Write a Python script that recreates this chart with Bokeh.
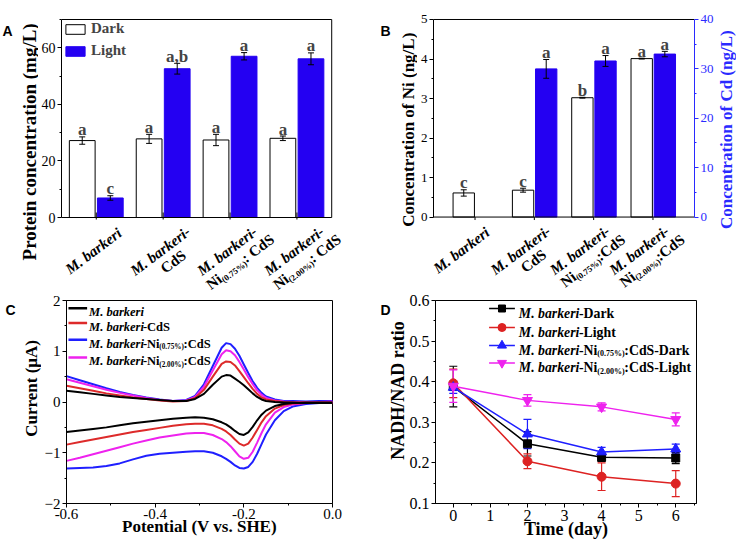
import math
from bokeh.plotting import figure
from bokeh.models import (Range1d, LinearAxis, FixedTicker, Label, Whisker, TeeHead,
                          ColumnDataSource, Legend, LegendItem, NumeralTickFormatter)
from bokeh.layouts import column, row
from bokeh.embed import file_html
from bokeh.resources import INLINE

SERIF = "Liberation Serif"
SANS = "Liberation Sans"
BAR_BLUE = "#2400f2"
AX_BLUE = "#2a2aff"

# ---------------- data ----------------
group_pos = [1, 2, 3, 4]
group_lines_A = [
    [[("M. barkeri", "i")]],
    [[("M. barkeri", "i"), ("-", "b")], [("CdS", "b")]],
    [[("M. barkeri", "i"), ("-", "b")], [("Ni", "b"), ("(0.75%)", "s"), (": CdS", "b")]],
    [[("M. barkeri", "i"), ("-", "b")], [("Ni", "b"), ("(2.00%)", "s"), (": CdS", "b")]],
]
group_lines_B = [
    [[("M. barkeri", "i")]],
    [[("M. barkeri", "i"), ("-", "b")], [("CdS", "b")]],
    [[("M. barkeri", "i"), ("-", "b")], [("Ni", "b"), ("(0.75%)", "s"), (":CdS", "b")]],
    [[("M. barkeri", "i"), ("-", "b")], [("Ni", "b"), ("(2.00%)", "s"), (":CdS", "b")]],
]

# Panel A: protein concentration (mg/L)
protein_dark = [27.2, 27.8, 27.4, 28.0]
protein_dark_err = [1.3, 1.6, 2.0, 0.8]
protein_dark_sig = ["a", "a", "a", "a"]
protein_light = [6.9, 52.6, 57.0, 56.1]
protein_light_err = [0.8, 1.9, 1.3, 2.1]
protein_light_sig = ["c", "a,b", "a", "a"]

# Panel B: Ni (left axis) and Cd (right axis), ng/L
ni_conc = [0.61, 0.68, 3.02, 4.01]
ni_err = [0.08, 0.05, 0.01, 0.01]
ni_sig = ["c", "c", "b", "a"]
cd_groups = [2, 3, 4]
cd_conc = [30.0, 31.6, 33.0]
cd_err = [1.9, 1.1, 0.55]
cd_sig = ["a", "a", "a"]

# Panel C: cyclic voltammograms (uA) vs potential (V vs. SHE)
cv_E = [-0.60, -0.57, -0.54, -0.51, -0.48, -0.45, -0.42, -0.39, -0.36, -0.33,
        -0.31, -0.29, -0.27, -0.25, -0.24, -0.23, -0.22, -0.21, -0.20, -0.19,
        -0.18, -0.17, -0.16, -0.15, -0.13, -0.11, -0.09, -0.06, -0.03, 0.00]
cv_black_up = [0.22, 0.19, 0.16, 0.13, 0.10, 0.08, 0.06, 0.04, 0.02, 0.02,
               0.06, 0.16, 0.34, 0.50, 0.53, 0.52, 0.46, 0.40, 0.33, 0.25,
               0.17, 0.10, 0.05, 0.02, 0.00, -0.01, -0.01, -0.02, -0.02, -0.02]
cv_black_dn = [-0.59, -0.56, -0.53, -0.50, -0.46, -0.42, -0.39, -0.36, -0.33, -0.31,
               -0.30, -0.31, -0.34, -0.40, -0.44, -0.50, -0.57, -0.63, -0.65, -0.60,
               -0.49, -0.36, -0.25, -0.17, -0.08, -0.04, -0.02, -0.01, -0.01, -0.01]
cv_red_up = [0.32, 0.27, 0.22, 0.17, 0.13, 0.09, 0.06, 0.03, 0.01, 0.02,
             0.08, 0.24, 0.50, 0.75, 0.80, 0.79, 0.72, 0.61, 0.49, 0.37,
             0.26, 0.16, 0.09, 0.05, 0.02, 0.00, -0.01, -0.01, -0.02, -0.02]
cv_red_dn = [-0.84, -0.79, -0.74, -0.69, -0.64, -0.59, -0.55, -0.51, -0.47, -0.44,
             -0.43, -0.43, -0.46, -0.53, -0.58, -0.65, -0.74, -0.82, -0.86, -0.82,
             -0.70, -0.55, -0.40, -0.28, -0.13, -0.06, -0.03, -0.02, -0.01, -0.01]
cv_blue_up = [0.51, 0.43, 0.35, 0.27, 0.20, 0.14, 0.09, 0.05, 0.02, 0.04,
              0.12, 0.35, 0.71, 1.07, 1.16, 1.14, 1.05, 0.91, 0.74, 0.57,
              0.41, 0.28, 0.18, 0.11, 0.05, 0.02, 0.02, 0.01, 0.02, 0.02]
cv_blue_dn = [-1.31, -1.30, -1.29, -1.26, -1.21, -1.13, -1.06, -1.02, -1.00, -0.98,
              -0.97, -0.97, -1.00, -1.07, -1.12, -1.18, -1.25, -1.30, -1.31, -1.28,
              -1.18, -1.02, -0.83, -0.64, -0.36, -0.18, -0.09, -0.04, -0.02, -0.01]
cv_mag_up = [0.45, 0.38, 0.31, 0.24, 0.18, 0.13, 0.08, 0.04, 0.02, 0.03,
             0.10, 0.30, 0.62, 0.94, 1.02, 1.00, 0.92, 0.79, 0.64, 0.49,
             0.35, 0.23, 0.14, 0.08, 0.03, 0.01, 0.00, 0.00, 0.00, 0.01]
cv_mag_dn = [-1.16, -1.10, -1.03, -0.96, -0.89, -0.82, -0.76, -0.70, -0.66, -0.62,
             -0.61, -0.61, -0.65, -0.73, -0.79, -0.87, -0.97, -1.07, -1.12, -1.10,
             -0.98, -0.80, -0.61, -0.44, -0.21, -0.10, -0.05, -0.02, -0.01, -0.01]
cv_legend = [
    [("M. barkeri", "i")],
    [("M. barkeri", "i"), ("-CdS", "b")],
    [("M. barkeri", "i"), ("-Ni", "b"), ("(0.75%)", "s"), (":CdS", "b")],
    [("M. barkeri", "i"), ("-Ni", "b"), ("(2.00%)", "s"), (":CdS", "b")],
]

# Panel D: NADH/NAD ratio vs time (day)
days = [0, 2, 4, 6]
nadh_mb_dark = [0.388, 0.247, 0.214, 0.212]
nadh_mb_dark_err = [0.050, 0.030, 0.010, 0.014]
nadh_mb_light = [0.396, 0.204, 0.166, 0.149]
nadh_mb_light_err = [0.035, 0.018, 0.034, 0.032]
nadh_ni_dark = [0.386, 0.271, 0.227, 0.234]
nadh_ni_dark_err = [0.015, 0.036, 0.011, 0.012]
nadh_ni_light = [0.389, 0.354, 0.338, 0.307]
nadh_ni_light_err = [0.040, 0.014, 0.010, 0.016]
nadh_legend = [
    [("M. barkeri", "i"), ("-Dark", "b")],
    [("M. barkeri", "i"), ("-Light", "b")],
    [("M. barkeri", "i"), ("-Ni", "b"), ("(0.75%)", "s"), (":CdS-Dark", "b")],
    [("M. barkeri", "i"), ("-Ni", "b"), ("(2.00%)", "s"), (":CdS-Light", "b")],
]

# ---------------- helpers ----------------
BOLD = {' ': 250, '%': 1000, '(': 333, ')': 333, ',': 250, '-': 333, '.': 250, '/': 278,
        ':': 333, 'C': 722, 'D': 722, 'L': 667, 'N': 722, 'S': 556, 'M': 944,
        'a': 500, 'b': 556, 'c': 444, 'd': 556, 'e': 444, 'g': 500, 'h': 556, 'i': 278,
        'k': 556, 'r': 444, 't': 333, 'y': 500, 'n': 556, 'o': 500, 's': 389, 'l': 278,
        'm': 833, 'u': 556}
BI = {' ': 250, '.': 250, '-': 333, 'M': 889, 'a': 500, 'b': 500, 'e': 444, 'i': 278,
      'k': 500, 'r': 389}
SUBK = 0.58


def text_width(s, fs, italic):
    tab = BI if italic else BOLD
    return sum(tab.get(c, 500) for c in s) / 1000.0 * fs


class Frame:
    """Maps page pixels <-> data coordinates of one plot frame."""
    def __init__(self, L, T, W, H, x0, x1, y0, y1):
        self.L, self.T, self.W, self.H = L, T, W, H
        self.x0, self.x1, self.y0, self.y1 = x0, x1, y0, y1

    def x(self, px):
        return self.x0 + (px - self.L) * (self.x1 - self.x0) / self.W

    def y(self, py):
        return self.y1 - (py - self.T) * (self.y1 - self.y0) / self.H

    def px(self, x):
        return self.L + (x - self.x0) * self.W / (self.x1 - self.x0)

    def py(self, y):
        return self.T + (self.y1 - y) * self.H / (self.y1 - self.y0)

    def upp(self):  # y data units per pixel
        return (self.y1 - self.y0) / self.H


def finish(p):
    p.xgrid.visible = False
    p.ygrid.visible = False
    p.background_fill_color = "white"
    p.border_fill_color = "white"
    return p


def base_fig(width, height, F, left, right, top, bottom, outline=True, xaxis="below"):
    p = figure(width=width, height=height, x_range=Range1d(F.x0, F.x1),
               y_range=Range1d(F.y0, F.y1), output_backend="svg", toolbar_location=None,
               min_border_left=left, min_border_right=right, min_border_top=top,
               min_border_bottom=bottom, title=None, x_axis_location=xaxis)
    p.outline_line_color = "black" if outline else None
    return finish(p)


def strip(L, T, W, H):
    """Blank figure whose frame is its whole canvas; x = page px, y = -page px."""
    F = Frame(L, T, W, H, L, L + W, -(T + H), -T)
    p = figure(width=W, height=H, x_range=Range1d(L, L + W), y_range=Range1d(-(T + H), -T),
               x_axis_location=None, y_axis_location=None, output_backend="svg",
               toolbar_location=None, min_border=0, min_border_left=0, min_border_right=0,
               min_border_top=0, min_border_bottom=0, title=None)
    p.outline_line_color = None
    return finish(p), F


def style_axis(ax, fs=14, color="black", standoff=2):
    ax.major_label_text_font = SERIF
    ax.major_label_text_font_size = f"{fs}px"
    ax.major_label_text_color = color
    ax.axis_line_color = color
    ax.major_tick_line_color = color
    ax.minor_tick_line_color = color
    ax.major_tick_out = 4
    ax.major_tick_in = 0
    ax.minor_tick_out = 2
    ax.minor_tick_in = 0
    ax.major_label_standoff = standoff


def axis_title(ax, text, fs, standoff=0):
    ax.axis_label = text
    ax.axis_label_text_font = SERIF
    ax.axis_label_text_font_style = "bold"
    ax.axis_label_text_font_size = f"{fs}px"
    ax.axis_label_text_color = "black"
    ax.axis_label_standoff = standoff


def label(p, F, px, py, text, fs, style="bold", color="black", angle=0.0,
          align="left", baseline="alphabetic", font=SERIF):
    p.add_layout(Label(x=F.x(px), y=F.y(py), text=text, angle=math.radians(angle),
                       text_font=font, text_font_style=style, text_font_size=f"{fs:.1f}px",
                       text_color=color, text_align=align, text_baseline=baseline))


def rich(p, F, parts, sx, sy, fs, ang=0.0, align="left", color="black"):
    a = math.radians(ang)
    ux, uy = math.cos(a), -math.sin(a)
    nx, ny = math.sin(a), math.cos(a)
    widths = [text_width(t, fs * SUBK if st == "s" else fs, st == "i") for t, st in parts]
    d = -sum(widths) / 2 if align == "center" else 0.0
    for (t, st), w in zip(parts, widths):
        size = fs * SUBK if st == "s" else fs
        drop = 0.28 * fs if st == "s" else 0.0
        label(p, F, sx + d * ux + drop * nx, sy + d * uy + drop * ny, t, size,
              "bold italic" if st == "i" else "bold", color, ang)
        d += w


def cat_labels(p, F, lines_list, dx, fs=15.0, ang=37.0, pitch=16.5, shift2=4.0, drop=23):
    a = math.radians(ang)
    ux, uy = math.cos(a), -math.sin(a)
    nx, ny = math.sin(a), math.cos(a)
    axis_y = F.py(0)
    for g, lines in zip(group_pos, lines_list):
        ax_, ay_ = F.px(g) + dx, axis_y + drop
        for k, parts in enumerate(lines):
            off = pitch * (k + 0.5) + 0.33 * fs
            along = shift2 if k else 0.0
            rich(p, F, parts, ax_ + off * nx + along * ux, ay_ + off * ny + along * uy,
                 fs, ang, "center")


def err_bars(p, xs, ys, es, color="black", head=6, lw=1.0, y_range_name="default",
             level="annotation"):
    src = ColumnDataSource(dict(x=list(xs), lo=[y - e for y, e in zip(ys, es)],
                                hi=[y + e for y, e in zip(ys, es)]))
    p.add_layout(Whisker(source=src, base="x", lower="lo", upper="hi", line_color=color,
                         line_width=lw, y_range_name=y_range_name, level=level,
                         upper_head=TeeHead(size=head, line_color=color, line_width=lw),
                         lower_head=TeeHead(size=head, line_color=color, line_width=lw)))


def sig_letters(p, upp, xs, tops, letters, fs=17, y_range_name="default"):
    for x, t, s in zip(xs, tops, letters):
        p.add_layout(Label(x=x, y=t + 7 * upp, text=s, text_align="center",
                           text_baseline="alphabetic", text_font=SERIF,
                           text_font_style="bold", text_font_size=f"{fs}px",
                           y_range_name=y_range_name))


# ---------------- Panel A ----------------
A_X = (0.48, 4.52)          # plot box x extent
A_Y = (0, 70)               # plot box y extent
A_BOX = (58, 19, 273, 198)  # plot box on the page: left, top, width, height
ppxA = A_BOX[2] / (A_X[1] - A_X[0])
ppyA = A_BOX[3] / (A_Y[1] - A_Y[0])
FA = Frame(L=58, T=18, W=294, H=274,
           x0=A_X[0], x1=A_X[0] + 294 / ppxA,
           y0=A_Y[0] - (292 - (A_BOX[1] + A_BOX[3])) / ppyA, y1=A_Y[1] + 1 / ppyA)
pA = base_fig(322, 292, FA, 20, 8, 18, 0, outline=False, xaxis=None)
dark_x = [g - 0.21 for g in group_pos]
light_x = [g + 0.21 for g in group_pos]
rd = pA.vbar(x=dark_x, top=protein_dark, width=0.385, fill_color="white",
             line_color="black", line_width=1)
rl = pA.vbar(x=light_x, top=protein_light, width=0.385, fill_color=BAR_BLUE,
             line_color=BAR_BLUE, line_width=1)
pA.quad(left=[A_X[0]], right=[A_X[1]], bottom=[A_Y[0]], top=[A_Y[1]], fill_color=None,
        line_color="black", line_width=1)
pA.segment(x0=group_pos, x1=group_pos, y0=[-2 / ppyA] * 4, y1=[5 / ppyA] * 4,
           line_color="black", line_width=1)
err_bars(pA, dark_x, protein_dark, protein_dark_err)
err_bars(pA, light_x, protein_light, protein_light_err)
sig_letters(pA, FA.upp(), dark_x, [v + e for v, e in zip(protein_dark, protein_dark_err)], protein_dark_sig)
sig_letters(pA, FA.upp(), light_x, [v + e for v, e in zip(protein_light, protein_light_err)], protein_light_sig)
pA.yaxis.ticker = FixedTicker(ticks=[0, 20, 40, 60], minor_ticks=[10, 30, 50, 70])
style_axis(pA.yaxis[0], 14)
pA.yaxis.bounds = A_Y
legA = Legend(items=[LegendItem(label="Dark", renderers=[rd]),
                     LegendItem(label="Light", renderers=[rl])],
              location="top_left", margin=2, padding=2, spacing=5, glyph_width=24,
              glyph_height=12, label_height=14, label_standoff=4,
              label_text_font=SERIF, label_text_font_style="bold",
              label_text_font_size="15px", border_line_color=None,
              background_fill_alpha=0)
pA.add_layout(legA)
cat_labels(pA, FA, group_lines_A, dx=-11)

sLA, FsLA = strip(0, 0, 38, 292)
label(sLA, FsLA, 28.5, 131.5, "Protein concentration (mg/L)", 19, angle=90,
      align="center", baseline="middle")
label(sLA, FsLA, 2, 13, "A", 14, font=SANS)

# ---------------- Panel B ----------------
B_X = (0.3, 4.7)
B_Y = (0, 5)
B_CD = (0, 40)
B_BOX = (432, 17, 264, 199)
ppyB = B_BOX[3] / (B_Y[1] - B_Y[0])
ppyCd = B_BOX[3] / (B_CD[1] - B_CD[0])
below_B = 292 - (B_BOX[1] + B_BOX[3])
FB = Frame(L=432, T=16, W=264, H=276, x0=B_X[0], x1=B_X[1],
           y0=B_Y[0] - below_B / ppyB, y1=B_Y[1] + 1 / ppyB)
pB = base_fig(299, 292, FB, 15, 20, 16, 0, outline=False, xaxis=None)
cd_lo, cd_hi = B_CD[0] - below_B / ppyCd, B_CD[1] + 1 / ppyCd
pB.extra_y_ranges = {"cd": Range1d(cd_lo, cd_hi)}
ni_x = [g - 0.19 for g in group_pos]
cd_x = [g + 0.20 for g in cd_groups]
pB.vbar(x=ni_x, top=ni_conc, width=0.36, fill_color="white", line_color="black", line_width=1)
pB.vbar(x=cd_x, top=cd_conc, width=0.36, fill_color=BAR_BLUE, line_color=BAR_BLUE,
        line_width=1, y_range_name="cd")
pB.quad(left=[B_X[0]], right=[B_X[1]], bottom=[B_Y[0]], top=[B_Y[1]], fill_color=None,
        line_color="black", line_width=1)
pB.segment(x0=group_pos, x1=group_pos, y0=[-3 / ppyB] * 4, y1=[0] * 4,
           line_color="black", line_width=1)
err_bars(pB, ni_x, ni_conc, ni_err, head=6)
err_bars(pB, cd_x, cd_conc, cd_err, head=6, y_range_name="cd")
sig_letters(pB, FB.upp(), ni_x, [v + e for v, e in zip(ni_conc, ni_err)], ni_sig)
sig_letters(pB, (cd_hi - cd_lo) / FB.H, cd_x, [v + e for v, e in zip(cd_conc, cd_err)],
            cd_sig, y_range_name="cd")
pB.yaxis.ticker = FixedTicker(ticks=[0, 1, 2, 3, 4, 5], minor_ticks=[0.5, 1.5, 2.5, 3.5, 4.5])
style_axis(pB.yaxis[0], 13)
pB.yaxis.bounds = B_Y
axR = LinearAxis(y_range_name="cd",
                 ticker=FixedTicker(ticks=[0, 10, 20, 30, 40], minor_ticks=[5, 15, 25, 35]))
style_axis(axR, 13, AX_BLUE)
axR.bounds = B_CD
pB.add_layout(axR, "right")
cat_labels(pB, FB, group_lines_B, dx=-22)

sLB, FsLB = strip(360, 0, 57, 292)
label(sLB, FsLB, 407.5, 118.5, "Concentration of Ni (ng/L)", 17, angle=90,
      align="center", baseline="middle")
label(sLB, FsLB, 380, 13, "B", 14, font=SANS)
sRB, FsRB = strip(716, 0, 20, 292)
label(sRB, FsRB, 725.5, 118.5, "Concentration of Cd (ng/L)", 17, color=AX_BLUE, angle=90,
      align="center", baseline="middle")

# ---------------- Panel C ----------------
FC = Frame(L=61, T=299, W=271, H=207, x0=-0.6, x1=0.0, y0=-2, y1=2)
pC = base_fig(319, 255, FC, 20, 28, 7, 41)
cv_series = [
    (cv_blue_up, cv_blue_dn, "#1f1fff"),
    (cv_mag_up, cv_mag_dn, "#ee22ee"),
    (cv_red_up, cv_red_dn, "#dd2a2a"),
    (cv_black_up, cv_black_dn, "#000000"),
]
for up, dn, col in cv_series:
    pC.line(cv_E + cv_E[::-1], up + dn[::-1], line_color=col, line_width=2)
pC.xaxis.ticker = FixedTicker(ticks=[-0.6, -0.4, -0.2, 0.0], minor_ticks=[-0.5, -0.3, -0.1])
pC.xaxis.formatter = NumeralTickFormatter(format="0.0")
pC.yaxis.ticker = FixedTicker(ticks=[-2, -1, 0, 1, 2], minor_ticks=[-1.5, -0.5, 0.5, 1.5])
style_axis(pC.xaxis[0], 15, standoff=1)
style_axis(pC.yaxis[0], 15, standoff=2)
axis_title(pC.xaxis[0], "Potential (V vs. SHE)", 17, standoff=-5)
cv_leg_colors = ["#000000", "#dd2a2a", "#1f1fff", "#ee22ee"]
for py, parts, col in zip([307, 322, 339, 357], cv_legend, cv_leg_colors):
    pC.line([FC.x(63), FC.x(82)], [FC.y(py), FC.y(py)], line_color=col, line_width=2.5)
    rich(pC, FC, parts, 84, py + 0.33 * 12.5, 12.5)

sLC, FsLC = strip(0, 292, 41, 255)
label(sLC, FsLC, 31, 402.5, "Current (\u03bcA)", 17, angle=90, align="center", baseline="middle")
label(sLC, FsLC, 5, 304, "C", 14, font=SANS)

# ---------------- Panel D ----------------
FD = Frame(L=433, T=300, W=263, H=203, x0=-0.48, x1=6.56, y0=0.1, y1=0.6)
pD = base_fig(330, 255, FD, 27, 40, 8, 44)
d_series = [
    (nadh_mb_dark, nadh_mb_dark_err, "#000000", "square", 8),
    (nadh_mb_light, nadh_mb_light_err, "#dd2222", "circle", 9),
    (nadh_ni_dark, nadh_ni_dark_err, "#1f1fff", "triangle", 10),
    (nadh_ni_light, nadh_ni_light_err, "#ee22ee", "inverted_triangle", 10),
]
for vals, errs, col, mk, sz in d_series:
    err_bars(pD, days, vals, errs, col, head=8, lw=1.2, level="underlay")
    pD.line(days, vals, line_color=col, line_width=1.5)
    pD.scatter(days, vals, marker=mk, size=sz, fill_color=col, line_color=col)
pD.xaxis.ticker = FixedTicker(ticks=[0, 1, 2, 3, 4, 5, 6],
                              minor_ticks=[0.5, 1.5, 2.5, 3.5, 4.5, 5.5, 6.5])
pD.yaxis.ticker = FixedTicker(ticks=[0.1, 0.2, 0.3, 0.4, 0.5, 0.6],
                              minor_ticks=[0.15, 0.25, 0.35, 0.45, 0.55])
pD.yaxis.formatter = NumeralTickFormatter(format="0.0")
style_axis(pD.xaxis[0], 16, standoff=2)
style_axis(pD.yaxis[0], 16, standoff=2)
axis_title(pD.xaxis[0], "Time (day)", 18, standoff=-5)
for py, parts, (vals, errs, col, mk, sz) in zip([308, 327, 345, 362.5], nadh_legend, d_series):
    pD.line([FD.x(487), FD.x(513)], [FD.y(py), FD.y(py)], line_color=col, line_width=1.5)
    pD.scatter([FD.x(500)], [FD.y(py)], marker=mk, size=sz - 1, fill_color=col, line_color=col)
    rich(pD, FD, parts, 517, py + 0.33 * 13.8, 13.8)

sLD, FsLD = strip(360, 292, 46, 255)
label(sLD, FsLD, 397, 405, "NADH/NAD ratio", 18, angle=90, align="center", baseline="middle")
label(sLD, FsLD, 380, 304, "D", 14, font=SANS)

top = row(sLA, pA, sLB, pB, sRB)
bottom = row(sLC, pC, sLD, pD)
layout = column(top, bottom)
open("out.html", "w").write(file_html(layout, INLINE))
